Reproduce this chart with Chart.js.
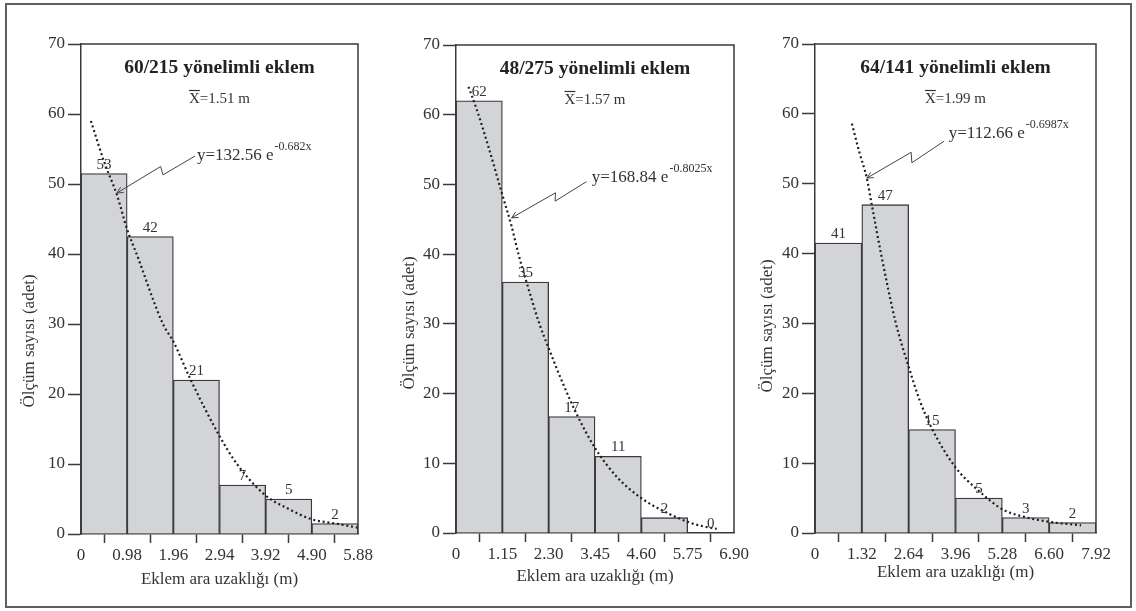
<!DOCTYPE html>
<html>
<head>
<meta charset="utf-8">
<script src="https://cdn.jsdelivr.net/npm/chart.js@4.4.1/dist/chart.umd.min.js"></script>
<style>
  html, body { margin: 0; padding: 0; background: #fff; }
  #wrap { position: relative; width: 1136px; height: 611px; overflow: hidden; }
  #frame { position: absolute; left: 5px; top: 3px; width: 1127px; height: 605px;
           border: 2px solid #5e5e5e; box-sizing: border-box; }
  canvas { position: absolute; top: 0; }
</style>
</head>
<body>
<div id="wrap">
  <div id="frame"></div>
  <canvas id="c1" width="380" height="611" style="left:0px"></canvas>
  <canvas id="c2" width="385" height="611" style="left:375px"></canvas>
  <canvas id="c3" width="402" height="611" style="left:734px"></canvas>
</div>
<script>
// Panel 1: 60/215
const title1 = '60/215 yönelimli eklem';
const mean1 = '1.51';
const eq1 = 'y=132.56 e';
const exp1 = '-0.682x';
const edges1 = ['0', '0.98', '1.96', '2.94', '3.92', '4.90', '5.88'];
const counts1 = ['53', '42', '21', '7', '5', '2'];
const bars1 = [51.5, 42.5, 22, 7, 5, 1.5];
const curve1 = [[0.21, 59], [0.5, 53], [0.76, 48.5], [0.98, 43.5], [1.18, 40], [1.74, 30],
    [1.96, 27.5], [2.33, 22], [2.94, 14], [3.31, 10], [3.92, 5.5], [4.4, 3.6], [4.9, 2.1],
    [5.4, 1.5], [5.88, 0.9]];

// Panel 2: 48/275
const title2 = '48/275 yönelimli eklem';
const mean2 = '1.57';
const eq2 = 'y=168.84 e';
const exp2 = '-0.8025x';
const edges2 = ['0', '1.15', '2.30', '3.45', '4.60', '5.75', '6.90'];
const counts2 = ['62', '35', '17', '11', '2', '0'];
const bars2 = [62, 36, 16.7, 11, 2.2, 0];
const curve2 = [[0.31, 64], [0.5, 61], [0.8, 55.5], [1.15, 48.5], [1.38, 44], [1.55, 40],
    [1.75, 36], [2.07, 30], [2.3, 26.5], [2.65, 21.5], [3.0, 17], [3.45, 12.2], [4.0, 8],
    [4.6, 5], [5.2, 3], [5.75, 1.6], [6.1, 1], [6.47, 0.6]];

// Panel 3: 64/141
const title3 = '64/141 yönelimli eklem';
const mean3 = '1.99';
const eq3 = 'y=112.66 e';
const exp3 = '-0.6987x';
const edges3 = ['0', '1.32', '2.64', '3.96', '5.28', '6.60', '7.92'];
const counts3 = ['41', '47', '15', '5', '3', '2'];
const bars3 = [41.5, 47, 14.8, 5, 2.2, 1.5];
const curve3 = [[1.04, 58.6], [1.25, 54.5], [1.46, 50.8], [1.6, 47], [1.86, 40], [2.28, 30],
    [2.64, 23.8], [2.95, 19], [3.29, 15], [3.96, 9.4], [4.6, 6.1], [5.28, 3.4], [5.9, 2.3],
    [6.6, 1.6], [7.5, 1.1]];

const yTitle = 'Ölçüm sayısı (adet)';
const xTitle = 'Eklem ara uzaklığı (m)';

const SERIF = '"Liberation Serif", "Times New Roman", serif';
const INK = '#333';

// layout of each panel (canvas padding, label anchors in data units)
const panels = [
    { id: 'c1', title: title1, mean: mean1, eq: eq1, exp: exp1, edges: edges1, counts: counts1,
      bars: bars1, curve: curve1, pad: { left: 21, right: 22, top: 44, bottom: 21 }, xH: 56,
      eqAt: [2.46, 53.4], leader: [[2.42, 54.0], [1.74, 51.3], [1.69, 52.5], [0.76, 48.7]],
      yTitleDx: 51, yTitleY: 341 },
    { id: 'c2', title: title2, mean: mean2, eq: eq2, exp: exp2, edges: edges2, counts: counts2,
      bars: bars2, curve: curve2, pad: { left: 21, right: 26, top: 45, bottom: 24 }, xH: 54,
      eqAt: [3.37, 50.3], leader: [[3.24, 50.4], [2.46, 47.6], [2.47, 48.8], [1.38, 45.2]],
      yTitleDx: 46, yTitleY: 323 },
    { id: 'c3', title: title3, mean: mean3, eq: eq3, exp: exp3, edges: edges3, counts: counts3,
      bars: bars3, curve: curve3, pad: { left: 21, right: 40, top: 44, bottom: 28 }, xH: 50,
      eqAt: [3.77, 56.6], leader: [[3.64, 56.1], [2.73, 53.0], [2.71, 54.5], [1.46, 50.8]],
      yTitleDx: 47, yTitleY: 326 }
];

// Draws the plot box, titles, bar counts and the equation leader
function makeDecor(p) {
    return {
        id: 'decor_' + p.id,
        afterDatasetsDraw(chart) {
            const { ctx, chartArea: a, scales: { x, y } } = chart;
            const edges = p.edges.map(Number);
            const cx = (a.left + a.right) / 2;
            ctx.save();

            // top and right edges of the box
            ctx.strokeStyle = '#3a3a3a';
            ctx.lineWidth = 1.5;
            ctx.beginPath();
            ctx.moveTo(a.left, a.top);
            ctx.lineTo(a.right, a.top);
            ctx.lineTo(a.right, a.bottom);
            ctx.stroke();

            // counts above bars
            ctx.fillStyle = INK;
            ctx.font = `15px ${SERIF}`;
            ctx.textAlign = 'center';
            ctx.textBaseline = 'alphabetic';
            p.counts.forEach((c, i) => {
                const mid = (edges[i] + edges[i + 1]) / 2;
                ctx.fillText(c, x.getPixelForValue(mid), y.getPixelForValue(p.bars[i]) - 5);
            });

            // title
            ctx.fillStyle = '#222';
            ctx.font = `bold 19.5px ${SERIF}`;
            ctx.fillText(p.title, cx, a.top + 29);

            // mean with overlined X
            ctx.fillStyle = INK;
            ctx.font = `15px ${SERIF}`;
            const rest = '=' + p.mean + ' m';
            const wX = ctx.measureText('X').width;
            const wR = ctx.measureText(rest).width;
            const sx = cx - (wX + wR) / 2;
            const by = a.top + 59;
            ctx.textAlign = 'left';
            ctx.fillText('X', sx, by);
            ctx.fillText(rest, sx + wX, by);
            ctx.lineWidth = 1.2;
            ctx.strokeStyle = INK;
            ctx.beginPath();
            ctx.moveTo(sx, by - 12.5);
            ctx.lineTo(sx + wX, by - 12.5);
            ctx.stroke();

            // equation with exponent
            const ex = x.getPixelForValue(p.eqAt[0]);
            const ey = y.getPixelForValue(p.eqAt[1]);
            ctx.font = `17px ${SERIF}`;
            ctx.fillText(p.eq, ex, ey);
            const wE = ctx.measureText(p.eq).width;
            ctx.font = `12px ${SERIF}`;
            ctx.fillText(p.exp, ex + wE + 1, ey - 10);

            // zigzag leader with arrow
            const pts = p.leader.map(([u, v]) => [x.getPixelForValue(u), y.getPixelForValue(v)]);
            ctx.strokeStyle = '#444';
            ctx.lineWidth = 1;
            ctx.beginPath();
            ctx.moveTo(pts[0][0], pts[0][1]);
            for (let i = 1; i < pts.length; i++) ctx.lineTo(pts[i][0], pts[i][1]);
            const [t0, t1] = [pts[pts.length - 2], pts[pts.length - 1]];
            const ang = Math.atan2(t1[1] - t0[1], t1[0] - t0[0]);
            for (const s of [-0.45, 0.45]) {
                ctx.moveTo(t1[0], t1[1]);
                ctx.lineTo(t1[0] - 7 * Math.cos(ang + s), t1[1] - 7 * Math.sin(ang + s));
            }
            ctx.stroke();

            // y axis title
            ctx.fillStyle = INK;
            ctx.font = `17px ${SERIF}`;
            ctx.translate(a.left - p.yTitleDx, p.yTitleY);
            ctx.rotate(-Math.PI / 2);
            ctx.textAlign = 'center';
            ctx.textBaseline = 'middle';
            ctx.fillText(yTitle, 0, 0);
            ctx.restore();
        }
    };
}

function createPanel(p) {
    const edges = p.edges.map(Number);
    const barData = [];
    p.bars.forEach((h, i) => {
        if (h > 0) barData.push({ x: (edges[i] + edges[i + 1]) / 2, y: h });
    });

    new Chart(document.getElementById(p.id), {
        type: 'bar',
        data: {
            datasets: [{
                type: 'line',
                data: p.curve.map(([x, y]) => ({ x, y })),
                borderColor: '#1e1e1e',
                borderWidth: 2.2,
                borderDash: [2, 2.8],
                pointRadius: 0,
                cubicInterpolationMode: 'monotone',
                order: 0
            }, {
                type: 'bar',
                data: barData,
                backgroundColor: '#d3d4d8',
                borderColor: '#3a3a3a',
                borderWidth: 1.3,
                barPercentage: 1,
                categoryPercentage: 1,
                order: 1
            }]
        },
        options: {
            responsive: false,
            animation: false,
            layout: { padding: p.pad },
            plugins: { legend: { display: false }, tooltip: { enabled: false } },
            scales: {
                x: {
                    type: 'linear',
                    min: 0,
                    max: edges[edges.length - 1],
                    offset: false,
                    afterBuildTicks: (s) => { s.ticks = edges.map(v => ({ value: v })); },
                    afterFit: (s) => { s.height = p.xH; },
                    ticks: {
                        autoSkip: false,
                        maxRotation: 0,
                        padding: 2,
                        color: INK,
                        font: { family: SERIF, size: 17 },
                        callback: (v, i) => p.edges[i]
                    },
                    grid: { drawOnChartArea: false, tickLength: 9, tickColor: '#3a3a3a', tickWidth: 1.5 },
                    border: { color: '#3a3a3a', width: 1.5 },
                    title: {
                        display: true,
                        text: xTitle,
                        color: INK,
                        padding: 0,
                        font: { family: SERIF, size: 17 }
                    }
                },
                y: {
                    min: 0,
                    max: 70,
                    afterFit: (s) => { s.width = 60; },
                    ticks: {
                        stepSize: 10,
                        padding: 3,
                        color: INK,
                        font: { family: SERIF, size: 17 }
                    },
                    grid: { drawOnChartArea: false, tickLength: 13, tickColor: '#3a3a3a', tickWidth: 1.5 },
                    border: { color: '#3a3a3a', width: 1.5 }
                }
            }
        },
        plugins: [makeDecor(p)]
    });
}

panels.forEach(createPanel);
</script>
</body>
</html>
